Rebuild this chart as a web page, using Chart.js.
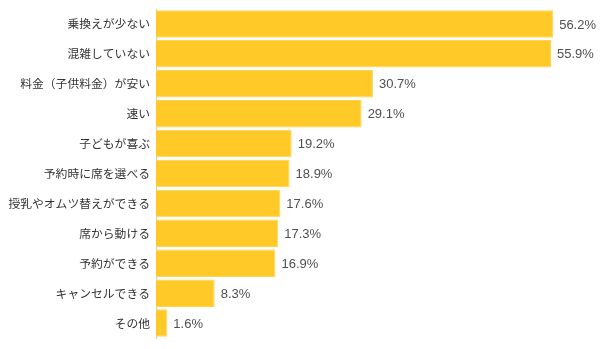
<!DOCTYPE html>
<html>
<head>
<meta charset="utf-8">
<script src="https://cdn.jsdelivr.net/npm/chart.js@4"></script>
<style>
  html, body { margin: 0; padding: 0; background: #fff; }
  #wrap { width: 600px; height: 349px; }
</style>
</head>
<body>
<div id="wrap"><canvas id="myChart"></canvas></div>
<script>
const categories = ['乗換えが少ない', '混雑していない', '料金（子供料金）が安い', '速い', '子どもが喜ぶ',
  '予約時に席を選べる', '授乳やオムツ替えができる', '席から動ける', '予約ができる', 'キャンセルできる', 'その他'];
const percents = [56.2, 55.9, 30.7, 29.1, 19.2, 18.9, 17.6, 17.3, 16.9, 8.3, 1.6];

const ctx = document.getElementById('myChart');

// value text at end of each bar
const valueLabels = {
  id: 'valueLabels',
  afterDatasetsDraw(chart) {
    const c = chart.ctx;
    const meta = chart.getDatasetMeta(0);
    c.save();
    c.font = '13px "Liberation Sans", Arial, sans-serif';
    c.fillStyle = '#505050';
    c.textAlign = 'left';
    c.textBaseline = 'middle';
    meta.data.forEach((bar, i) => {
      c.fillText(percents[i].toFixed(1) + '%', bar.x + 6, bar.y + 1);
    });
    c.restore();
  }
};

new Chart(ctx, {
  type: 'bar',
  data: {
    labels: categories,
    datasets: [{
      data: percents,
      backgroundColor: '#FFC928',
      borderColor: '#FFD452',
      borderWidth: 1,
      barPercentage: 0.92,
      categoryPercentage: 1.0
    }]
  },
  options: {
    indexAxis: 'y',
    responsive: true,
    maintainAspectRatio: false,
    animation: false,
    layout: { padding: { top: 9, right: 20, bottom: 11, left: 0 } },
    plugins: {
      legend: { display: false },
      tooltip: { enabled: false }
    },
    scales: {
      x: {
        min: 0,
        max: 60,
        display: false
      },
      y: {
        afterFit: (scale) => {
          scale.width = 156;
          scale.paddingTop = 0;
          scale.paddingBottom = 0;
        },
        grid: { display: false, tickLength: 0 },
        border: { display: true, color: '#cccccc', width: 1 },
        ticks: {
          color: '#333',
          padding: 6,
          font: { family: '"Noto Sans CJK JP", sans-serif', size: 11.8 }
        }
      }
    }
  },
  plugins: [valueLabels]
});
</script>
</body>
</html>
